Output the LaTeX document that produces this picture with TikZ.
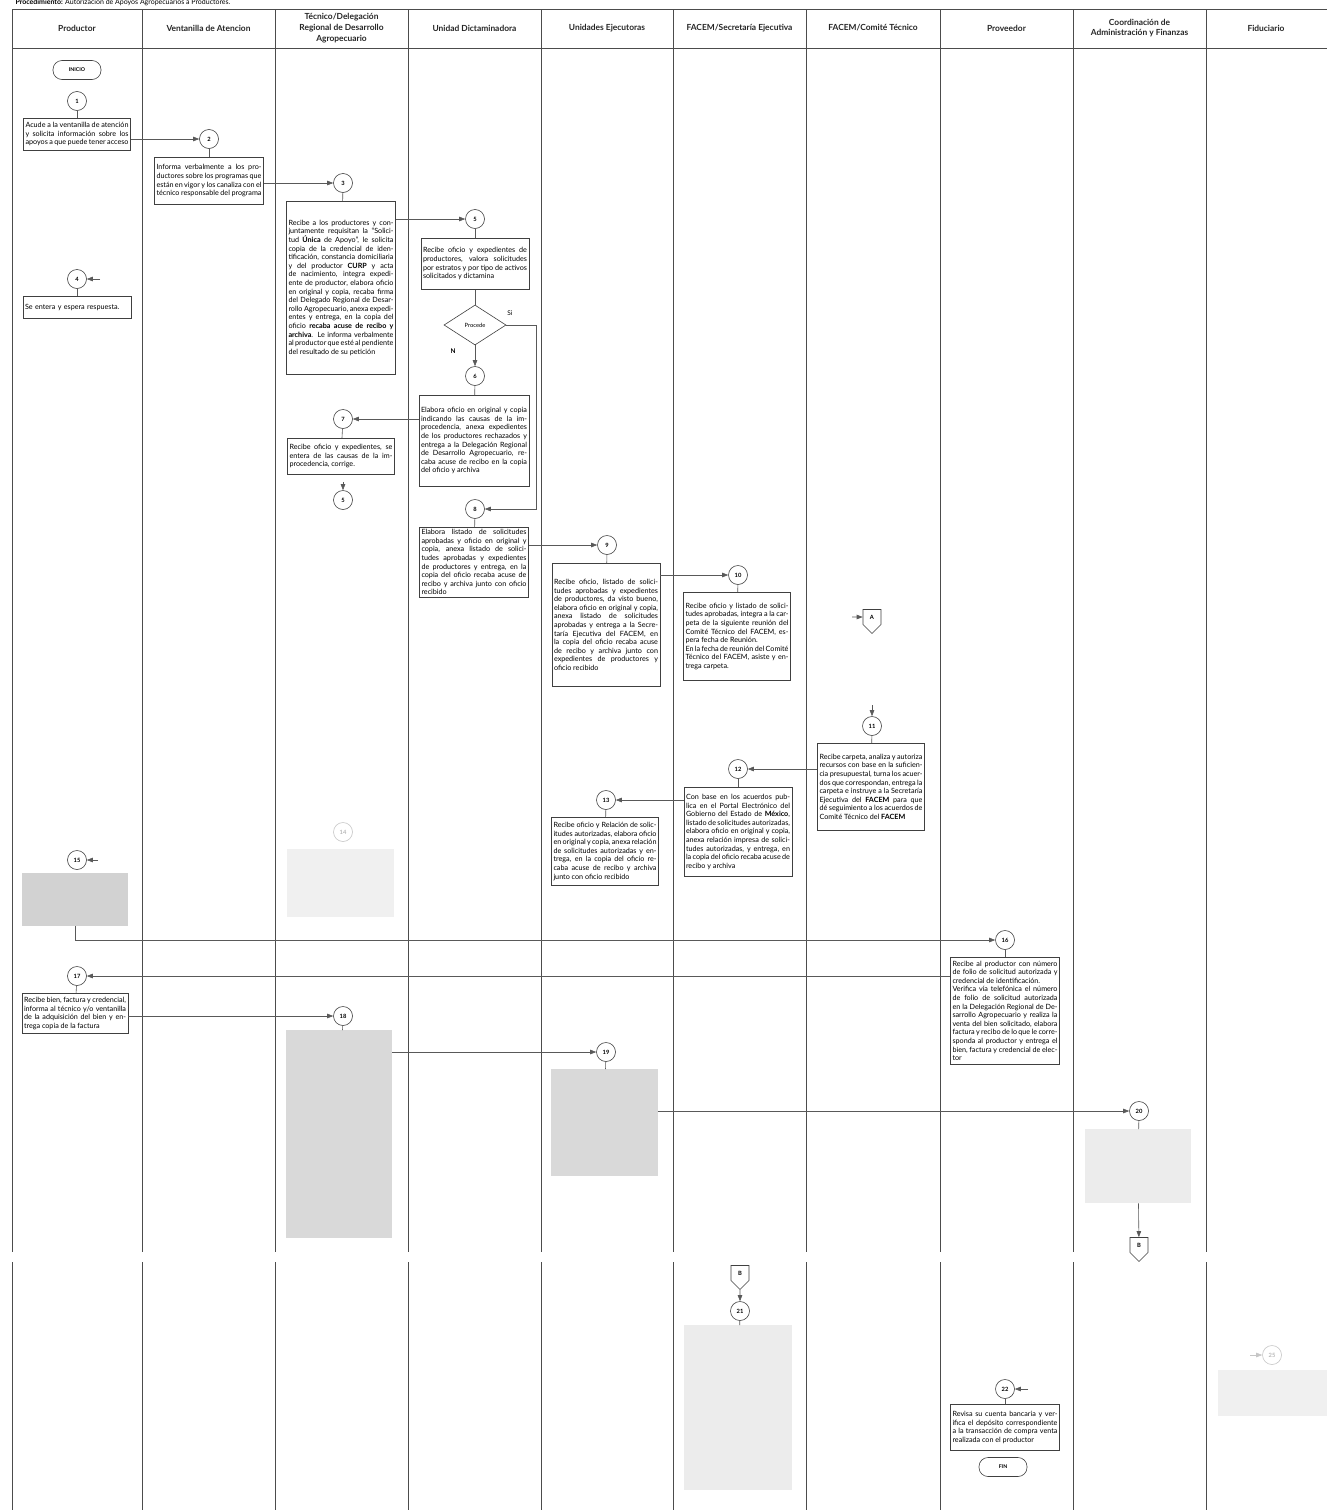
\documentclass[tikz,border=0pt]{standalone}
\usepackage{fontspec}
\setmainfont{Lato}
\usetikzlibrary{shapes.geometric, shapes.symbols, arrows.meta, positioning, calc}

\begin{document}
\begin{tikzpicture}[x=1pt, y=-1pt,
    lane/.style={font=\fontsize{8.4}{10.8}\selectfont\bfseries, align=center, text=black!85},
    proc/.style={rectangle, draw=black!75, line width=0.6pt, fill=white, anchor=north, text width=#1, align=justify, inner sep=2pt, font=\fontsize{7.2}{8.6}\selectfont},
    blur/.style={rectangle, fill=gray!18, draw=none, anchor=north},
    num/.style={circle, draw=black!75, line width=0.6pt, fill=white, minimum size=19pt, inner sep=0pt, font=\fontsize{5.8}{6}\selectfont\bfseries},
    faded/.style={num, draw=gray!45, text=gray!55},
    term/.style={rectangle, rounded corners=9pt, draw=black!75, line width=0.6pt, minimum width=48pt, minimum height=19pt, font=\fontsize{5.2}{6}\selectfont\bfseries},
    offpage/.style={signal, signal to=south, draw=black!75, line width=0.6pt, fill=white, minimum width=18pt, minimum height=18pt, inner sep=1pt, font=\fontsize{5.8}{6}\selectfont\bfseries},
    arrow/.style={-{Triangle[length=6pt, width=4.5pt]}, draw=black!65, line width=0.6pt},
    link/.style={draw=black!65, line width=0.6pt}
]
\fill[white] (0,0) rectangle (1327,1510);
\useasboundingbox (0,0) rectangle (1327,1510);

% Title and lanes
\node[anchor=west, font=\fontsize{7}{8}\selectfont] (titulo) at (12,3) {\textbf{Procedimiento:} Autorización de Apoyos Agropecuarios a Productores.};
\draw[draw=black!70, line width=0.6pt] (12,9) -- (1327,9) (12,48) -- (1327,48);
\foreach \x in {12,142,275,408,541,673,806,940,1073,1206} {
  \draw[draw=black!70, line width=0.6pt] (\x,9) -- (\x,1252) (\x,1262) -- (\x,1510);
}
\node[lane] (hProductor) at (77,28) {Productor};
\node[lane] (hVentanilla) at (208.5,28) {Ventanilla de Atencion};
\node[lane] (hTecnico) at (341.5,28) {Técnico/Delegación\\Regional de Desarrollo\\Agropecuario};
\node[lane] (hDictaminadora) at (474.5,28) {Unidad Dictaminadora};
\node[lane] (hEjecutoras) at (607,28) {Unidades Ejecutoras};
\node[lane] (hSecretaria) at (739.5,28) {FACEM/Secretaría Ejecutiva};
\node[lane] (hComite) at (873,28) {FACEM/Comité Técnico};
\node[lane] (hProveedor) at (1006.5,28) {Proveedor};
\node[lane] (hCoordinacion) at (1139.5,28) {Coordinación de\\Administración y Finanzas};
\node[lane] (hFiduciario) at (1266,28) {Fiduciario};

% Steps 1 to 4
\node[term] (inicio) at (77,70) {INICIO};
\node[num] (n1) at (77,101) {1};
\node[proc=103pt, minimum height=32pt] (p1) at (77,118) {Acude a la ventanilla de atención y solicita información sobre los apoyos a que puede tener acceso};
\draw[link] (n1) -- (p1);

\node[num] (n2) at (209,139) {2};
\draw[arrow] (p1.east |- n2) -- (n2);
\node[proc=105pt, minimum height=47pt] (p2) at (209,157) {Informa verbalmente a los productores sobre los programas que están en vigor y los canaliza con el técnico responsable del programa};
\draw[link] (n2) -- (p2);

\node[num] (n3) at (343,183) {3};
\draw[arrow] (p2.east |- n3) -- (n3);
\node[proc=105pt, minimum height=173pt] (p3) at (341,201) {Recibe a los productores y conjuntamente requisitan la “Solicitud \textbf{Única} de Apoyo”, le solicita copia de la credencial de identificación, constancia domiciliaria y del productor \textbf{CURP} y acta de nacimiento, integra expediente de productor, elabora oficio en original y copia, recaba firma del Delegado Regional de Desarrollo Agropecuario, anexa expedientes y entrega, en la copia del oficio \textbf{recaba acuse de recibo y archiva}. Le informa verbalmente al productor que esté al pendiente del resultado de su petición};
\draw[link] (n3) -- (p3);

\node[num] (n4) at (77,279) {4};
\coordinate (e4) at (100,279);
\draw[arrow] (e4) -- (n4);
\node[proc=104pt, minimum height=22pt, align=left] (p4) at (77,296) {Se entera y espera respuesta.};
\draw[link] (n4) -- (p4);

% Dictamen
\node[num] (n5) at (475,219) {5};
\draw[arrow] (p3.east |- n5) -- (n5);
\node[proc=104pt, minimum height=51pt] (p5) at (475,238) {Recibe oficio y expedientes de productores, valora solicitudes por estratos y por tipo de activos solicitados y dictamina};
\draw[link] (n5) -- (p5);
\node[diamond, aspect=1.55, draw=black!75, line width=0.6pt, fill=white, minimum width=62pt, minimum height=40pt, inner sep=0pt, font=\fontsize{5.8}{6}\selectfont] (procede) at (475,325) {Procede};
\draw[link] (p5) -- (procede);
\node[font=\fontsize{6.5}{7}\selectfont] (etqSi) at (510,313) {Si};
\node[font=\fontsize{6.5}{7}\selectfont\bfseries] (etqN) at (453,351) {N};

\node[num] (n6) at (475,376) {6};
\draw[arrow] (procede) -- (n6);
\node[proc=106pt, minimum height=91pt] (p6) at (474,395) {Elabora oficio en original y copia indicando las causas de la improcedencia, anexa expedientes de los productores rechazados y entrega a la Delegación Regional de Desarrollo Agropecuario, recaba acuse de recibo en la copia del oficio y archiva};
\draw[link] (n6) -- (p6);

\node[num] (n7) at (343,419) {7};
\draw[arrow] (p6.west |- n7) -- (n7);
\node[proc=103pt, minimum height=36pt] (p7) at (341,438) {Recibe oficio y expedientes, se entera de las causas de la improcedencia, corrige.};
\draw[link] (n7) -- (p7);
\node[num] (c5) at (343,500) {5};
\coordinate (e5) at (343,482);
\draw[arrow] (e5) -- (c5);

% Approved requests
\node[num] (n8) at (475,509) {8};
\coordinate (si) at (536,325);
\draw[arrow] (procede.east) -- (si) |- (n8);
\node[proc=105pt, minimum height=61pt] (p8) at (474,527) {Elabora listado de solicitudes aprobadas y oficio en original y copia, anexa listado de solicitudes aprobadas y expedientes de productores y entrega, en la copia del oficio recaba acuse de recibo y archiva junto con oficio recibido};
\draw[link] (n8) -- (p8);

\node[num] (n9) at (607,545) {9};
\draw[arrow] (p8.east |- n9) -- (n9);
\node[proc=104pt, minimum height=123pt] (p9) at (606,563) {Recibe oficio, listado de solicitudes aprobadas y expedientes de productores, da visto bueno, elabora oficio en original y copia, anexa listado de solicitudes aprobadas y entrega a la Secretaría Ejecutiva del FACEM, en la copia del oficio recaba acuse de recibo y archiva junto con expedientes de productores y oficio recibido};
\draw[link] (n9) -- (p9);

\node[num] (n10) at (738,575) {10};
\draw[arrow] (p9.east |- n10) -- (n10);
\node[proc=103pt, minimum height=88pt] (p10) at (737,592) {Recibe oficio y listado de solicitudes aprobadas, integra a la carpeta de la siguiente reunión del Comité Técnico del FACEM, espera fecha de Reunión.\\En la fecha de reunión del Comité Técnico del FACEM, asiste y entrega carpeta.};
\draw[link] (n10) -- (p10);

\node[offpage] (conA) at (872,617) {A};
\coordinate (eA) at (852,617);
\draw[arrow] (eA) -- (conA);

% Comite and publication
\node[num] (n11) at (872,726) {11};
\coordinate (e11) at (872,705);
\draw[arrow] (e11) -- (n11);
\node[proc=103pt, minimum height=87pt] (p11) at (871,743) {Recibe carpeta, analiza y autoriza recursos con base en la suficiencia presupuestal, turna los acuerdos que correspondan, entrega la carpeta e instruye a la Secretaría Ejecutiva del \textbf{FACEM} para que dé seguimiento a los acuerdos de Comité Técnico del \textbf{FACEM}};
\draw[link] (n11) -- (p11);

\node[num] (n12) at (738,769) {12};
\draw[arrow] (p11.west |- n12) -- (n12);
\node[proc=104pt, minimum height=89pt] (p12) at (738,787) {Con base en los acuerdos publica en el Portal Electrónico del Gobierno del Estado de \textbf{México}, listado de solicitudes autorizadas, elabora oficio en original y copia, anexa relación impresa de solicitudes autorizadas, y entrega, en la copia del oficio recaba acuse de recibo y archiva};
\draw[link] (n12) -- (p12);

\node[num] (n13) at (606,800) {13};
\draw[arrow] (p12.west |- n13) -- (n13);
\node[proc=103pt, minimum height=68pt] (p13) at (605,817) {Recibe oficio y Relación de solicitudes autorizadas, elabora oficio en original y copia, anexa relación de solicitudes autorizadas y entrega, en la copia del oficio recaba acuse de recibo y archiva junto con oficio recibido};
\draw[link] (n13) -- (p13);

\node[faded] (n14) at (343,832) {14};
\node[blur, fill=gray!12, minimum width=107pt, minimum height=68pt] (p14) at (340,849) {};

% Purchase
\node[num] (n15) at (77,860) {15};
\coordinate (e15) at (98,860);
\draw[arrow] (e15) -- (n15);
\node[blur, fill=gray!35, minimum width=106pt, minimum height=53pt] (p15) at (75,873) {};

\node[num] (n16) at (1005,940) {16};
\draw[arrow] (p15.south) |- (n16);
\node[proc=105pt, minimum height=107pt] (p16) at (1005,957) {Recibe al productor con número de folio de solicitud autorizada y credencial de identificación.\\Verifica vía telefónica el número de folio de solicitud autorizada en la Delegación Regional de Desarrollo Agropecuario y realiza la venta del bien solicitado, elabora factura y recibo de lo que le corresponda al productor y entrega el bien, factura y credencial de elector};
\draw[link] (n16) -- (p16);

\node[num] (n17) at (77,976) {17};
\draw[arrow] (p16.west |- n17) -- (n17);
\node[proc=102pt, minimum height=40pt] (p17) at (75,993) {Recibe bien, factura y credencial, informa al técnico y/o ventanilla de la adquisición del bien y entrega copia de la factura};
\draw[link] (n17) -- (p17);

\node[num] (n18) at (343,1016) {18};
\draw[arrow] (p17.east |- n18) -- (n18);
\node[blur, fill=gray!30, minimum width=106pt, minimum height=208pt] (p18) at (339,1030) {};
\draw[link] (n18) -- (p18);

\node[num] (n19) at (606,1052) {19};
\draw[arrow] (p18.east |- n19) -- (n19);
\node[blur, fill=gray!30, minimum width=107pt, minimum height=107pt] (p19) at (604,1069) {};
\draw[link] (n19) -- (p19);

\node[num] (n20) at (1139,1111) {20};
\draw[arrow] (p19.east |- n20) -- (n20);
\node[blur, fill=gray!15, minimum width=106pt, minimum height=74pt] (p20) at (1138,1129) {};
\draw[link] (n20) -- (p20);
\node[offpage] (conB) at (1139,1245) {B};
\draw[arrow] (p20) -- (conB);

% Payment
\node[offpage] (conB2) at (740,1273) {B};
\node[num] (n21) at (740,1311) {21};
\draw[arrow] (conB2) -- (n21);
\node[blur, fill=gray!15, minimum width=108pt, minimum height=165pt] (p21) at (738,1325) {};
\draw[link] (n21) -- (p21);

\node[num] (n22) at (1005,1389) {22};
\coordinate (e22) at (1028,1389);
\draw[arrow] (e22) -- (n22);
\node[proc=105pt, minimum height=46pt] (p22) at (1005,1404) {Revisa su cuenta bancaria y verifica el depósito correspondiente a la transacción de compra venta realizada con el productor};
\draw[link] (n22) -- (p22);
\node[term] (fin) at (1003,1467) {FIN};

\node[faded] (n25) at (1272,1355) {25};
\coordinate (e25) at (1250,1355);
\draw[arrow, draw=gray!45] (e25) -- (n25);
\node[blur, fill=gray!12, minimum width=109pt, minimum height=46pt] (p25) at (1272,1370) {};
\end{tikzpicture}
\end{document}
